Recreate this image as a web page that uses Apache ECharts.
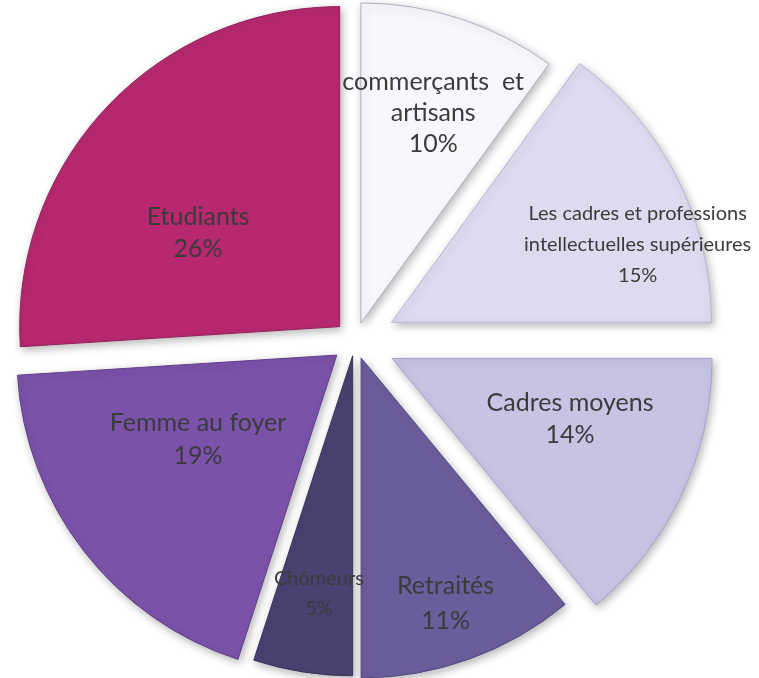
<!DOCTYPE html>
<html>
<head>
<meta charset="utf-8">
<script src="https://cdn.jsdelivr.net/npm/echarts@6/dist/echarts.min.js"></script>
<style>
  html, body { margin: 0; padding: 0; background: #ffffff; }
  #chart { width: 759px; height: 678px; }
</style>
</head>
<body>
<div id="chart"></div>
<script>
// Répartition des catégories socio-professionnelles (en %)
const categories = [
  'commerçants  et\nartisans',
  'Les cadres et professions\nintellectuelles supérieures',
  'Cadres moyens',
  'Retraités',
  'Chômeurs',
  'Femme au foyer',
  'Etudiants'
];
const shares = [10, 15, 14, 11, 5, 19, 26];

// Slice styling
const sliceColors = ['#f8f8fc', '#dcdbef', '#c6c3e3', '#6a5d9b', '#4a4171', '#7a52a9', '#b7286f'];
const sliceBorders = ['#b0b0c0', '#b9b7d6', '#a7a3cd', '#554a80', '#3a335a', '#62408a', '#93205a'];
const explodeDist = [19, 41, 41, 18, 15, 23, 21];   // how far each slice is pulled out
const labelDist = [231, 262, 187, 258, 238, 160, 172]; // label distance from the slice tip
const labelNudge = [[0, 13], [10, 42], [6, -20], [-4, 0], [4, 0], [-10, -16], [-14, 26]];
const labelSize = [25, 20, 25, 25, 20, 25, 25];
const labelLine = [31, 31, 32, 35, 30, 33, 32];

const R = 320;
const CENTER = [355, 341];

// One pie per slice so that each can have its own explode distance;
// the other slices of that pie are left transparent.
function slicePie(i, forLabel) {
  const inner = forLabel ? Math.max(0, 2 * labelDist[i] - R) : 0;
  const style = {
    color: sliceColors[i],
    borderColor: sliceBorders[i],
    borderWidth: 1,
    shadowBlur: 8,
    shadowOffsetX: 2,
    shadowOffsetY: 3,
    shadowColor: 'rgba(0,0,0,0.28)'
  };
  const hidden = { color: 'rgba(0,0,0,0)', borderWidth: 0, shadowBlur: 0, shadowColor: 'rgba(0,0,0,0)' };
  return {
    type: 'pie',
    center: CENTER,
    radius: [inner, R],
    startAngle: 90,
    clockwise: true,
    animation: false,
    silent: true,
    selectedMode: 'single',
    selectedOffset: explodeDist[i],
    emphasis: { disabled: true },
    labelLine: { show: false },
    label: {
      show: forLabel,
      position: 'inside',
      formatter: '{b}\n{c}%',
      color: '#3b3b3b',
      fontFamily: 'Lato',
      fontSize: labelSize[i],
      lineHeight: labelLine[i],
      align: 'center'
    },
    labelLayout: forLabel ? { dx: labelNudge[i][0], dy: labelNudge[i][1] } : undefined,
    data: categories.map((name, j) => {
      const own = j === i;
      const st = own && !forLabel ? style : hidden;
      return {
        name: name,
        value: shares[j],
        selected: own,
        itemStyle: st,
        select: { itemStyle: st },
        label: { show: forLabel && own }
      };
    })
  };
}

const series = [];
categories.forEach((_, i) => series.push(slicePie(i, false)));
categories.forEach((_, i) => series.push(slicePie(i, true)));

const chart = echarts.init(document.getElementById('chart'), null, { renderer: 'canvas' });
chart.setOption({
  backgroundColor: '#ffffff',
  animation: false,
  series: series
});
</script>
</body>
</html>
